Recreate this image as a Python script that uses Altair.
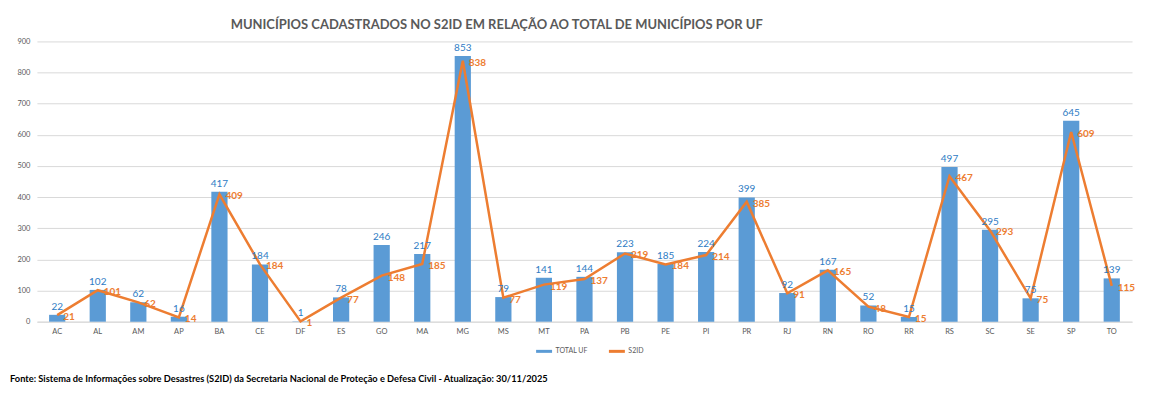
import altair as alt
import pandas as pd

ufs = ["AC", "AL", "AM", "AP", "BA", "CE", "DF", "ES", "GO", "MA", "MG", "MS", "MT", "PA",
       "PB", "PE", "PI", "PR", "RJ", "RN", "RO", "RR", "RS", "SC", "SE", "SP", "TO"]
total_uf = [22, 102, 62, 16, 417, 184, 1, 78, 246, 217, 853, 79, 141, 144,
            223, 185, 224, 399, 92, 167, 52, 15, 497, 295, 75, 645, 139]
s2id = [21, 101, 62, 14, 409, 184, 1, 77, 148, 185, 838, 77, 119, 137,
        219, 184, 214, 385, 91, 165, 48, 15, 467, 293, 75, 609, 115]
series_names = ["TOTAL UF", "S2ID"]
y_ticks = [0, 100, 200, 300, 400, 500, 600, 700, 800, 900]

title_text = "MUNICÍPIOS CADASTRADOS NO S2ID EM RELAÇÃO AO TOTAL DE MUNICÍPIOS POR UF"
footer_text = ("Fonte: Sistema de Informações sobre Desastres (S2ID) da Secretaria Nacional de "
               "Proteção e Defesa Civil - Atualização: 30/11/2025")

BLUE = "#5B9BD5"
ORANGE = "#ED7D31"
BLUE_TXT = "#2E7BC4"
GRAY = "#595959"
FONT = "Lato"

rows = []
for u, t, s in zip(ufs, total_uf, s2id):
    rows.append({"uf": u, "series": series_names[0], "value": t})
    rows.append({"uf": u, "series": series_names[1], "value": s})
df = pd.DataFrame(rows)

W, H = 1098, 281

x_enc = alt.X("uf:N", sort=ufs, title=None,
              scale=alt.Scale(paddingInner=0.6, paddingOuter=0.3),
              axis=alt.Axis(labelAngle=0, labelFontSize=7.5, labelColor=GRAY, labelFont=FONT,
                            ticks=False, domainColor="#D9D9D9", domainWidth=1, labelPadding=6))
y_enc = alt.Y("value:Q", title=None,
              scale=alt.Scale(domain=[0, 900], nice=False),
              axis=alt.Axis(values=y_ticks, tickCount=10, labelOverlap=False,
                            labelFontSize=7.5, labelColor=GRAY, labelFont=FONT,
                            ticks=False, domain=False, grid=True, gridColor="#D9D9D9",
                            gridWidth=1, labelPadding=7))
color_enc = alt.Color("series:N", scale=alt.Scale(domain=series_names, range=[BLUE, ORANGE]),
                      legend=alt.Legend(title=None, orient="none", legendX=499, legendY=301,
                                        direction="horizontal", symbolType="stroke",
                                        symbolSize=256, symbolStrokeWidth=3,
                                        labelFontSize=7, labelColor=GRAY, labelFont=FONT,
                                        columnPadding=14, labelOffset=2))

base = alt.Chart(df)
bars = base.transform_filter(alt.datum.series == series_names[0]).mark_bar().encode(
    x=x_enc, y=y_enc, color=color_enc)
bar_labels = base.transform_filter(alt.datum.series == series_names[0]).mark_text(
    baseline="bottom", dy=-3, fontSize=10, font=FONT, color=BLUE_TXT).encode(
    x=x_enc, y=y_enc, text="value:Q")
line = base.transform_filter(alt.datum.series == series_names[1]).mark_line(strokeWidth=2.5).encode(
    x=x_enc, y=y_enc, color=color_enc)
line_labels = base.transform_filter(alt.datum.series == series_names[1]).mark_text(
    align="left", baseline="middle", dx=6, dy=2, fontSize=10, fontWeight="bold",
    font=FONT, color=ORANGE).encode(
    x=x_enc, y=y_enc, text="value:Q")

footer = alt.Chart(pd.DataFrame({"t": [footer_text]})).mark_text(
    align="left", baseline="middle", fontSize=9.3, fontWeight="bold", font=FONT,
    color="#000000").encode(x=alt.value(-27), y=alt.value(338), text="t:N")

chart = alt.layer(bars, line, bar_labels, line_labels, footer).properties(
    width=W, height=H,
    title=alt.Title(title_text, fontSize=13, font=FONT, fontWeight="bold", color=GRAY,
                    anchor="middle", dx=-88, offset=5),
    autosize=alt.AutoSizeParams(type="none"),
    padding={"left": 29, "top": 33, "right": 10, "bottom": 70},
).configure_view(stroke=None)

chart.save("out.html", embed_options={"renderer": "svg", "actions": False})
